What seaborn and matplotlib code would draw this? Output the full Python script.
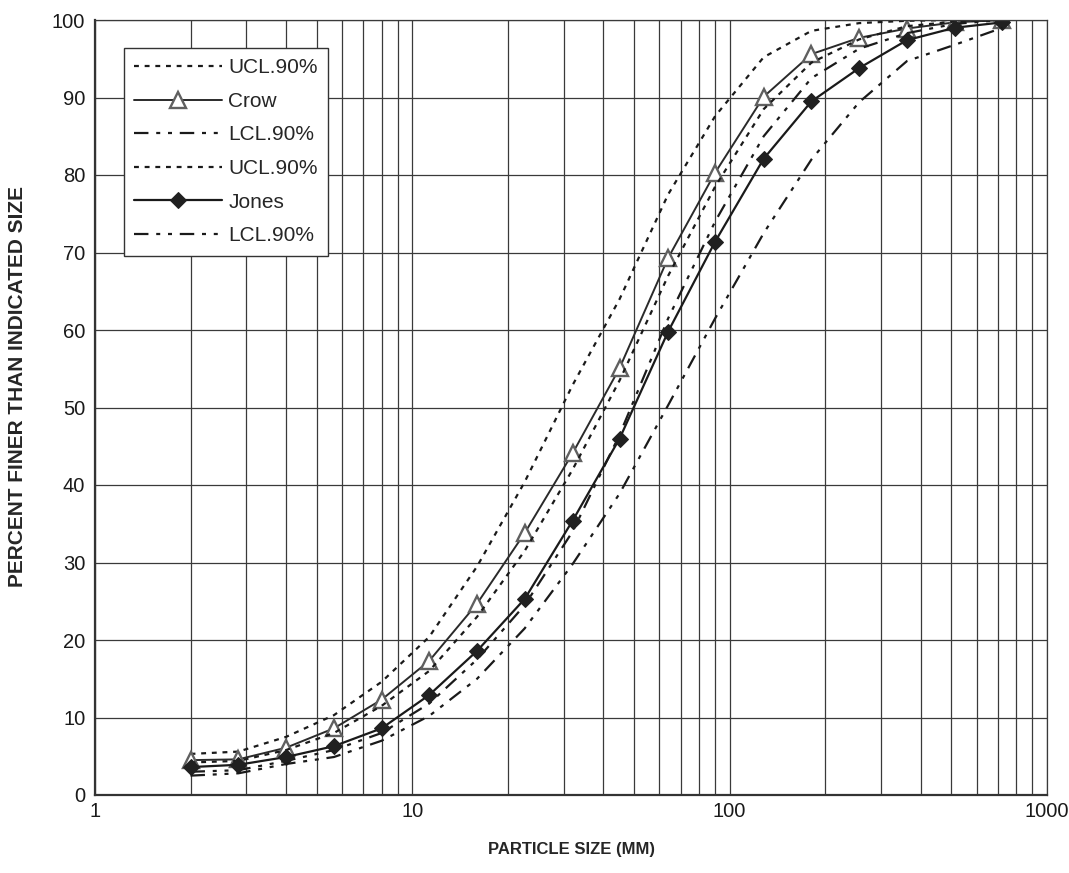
import numpy as np
import pandas as pd
import matplotlib
matplotlib.use("Agg")
import matplotlib.pyplot as plt
from matplotlib.ticker import FixedLocator, FixedFormatter, LogLocator, NullFormatter
import seaborn as sns

# Sieve sizes (mm)
sizes = [2, 2.83, 4, 5.66, 8, 11.3, 16, 22.6, 32, 45, 64, 90, 128, 181, 256, 362, 512, 724]

# Percent finer, Crow gradation with 90% confidence limits
crow = [4.5, 4.6, 6.1, 8.6, 12.3, 17.3, 24.7, 33.8, 44.1, 55.1, 69.3, 80.3, 90.1, 95.6, 97.7, 98.9, 99.7, 100.0]
crow_ucl = [5.3, 5.6, 7.5, 10.3, 14.6, 20.4, 29.5, 40.4, 52.9, 64.0, 77.5, 87.6, 95.2, 98.6, 99.6, 99.9, 100.0, 100.0]
crow_lcl = [3.0, 3.2, 4.4, 5.8, 8.0, 11.8, 17.5, 24.5, 34.0, 46.5, 61.5, 74.0, 85.0, 92.5, 96.3, 98.3, 99.5, 100.0]

# Percent finer, Jones gradation with 90% confidence limits
jones = [3.6, 3.9, 4.9, 6.3, 8.6, 12.9, 18.6, 25.3, 35.4, 46.0, 59.8, 71.4, 82.1, 89.5, 93.8, 97.4, 99.0, 99.7]
jones_ucl = [4.2, 4.4, 5.8, 8.0, 11.5, 16.0, 23.0, 31.5, 42.0, 53.5, 67.0, 78.5, 88.5, 94.5, 97.5, 99.2, 99.8, 100.0]
jones_lcl = [2.5, 2.8, 4.0, 4.9, 7.0, 10.2, 15.0, 21.5, 29.8, 38.9, 50.3, 61.5, 72.5, 82.0, 89.4, 94.7, 96.8, 99.0]

legend_labels = ["UCL.90%", "Crow", "LCL.90%", "UCL.90%", "Jones", "LCL.90%"]
x_ticks = [1, 10, 100, 1000]
y_ticks = list(range(0, 101, 10))

sns.set_style("white")
plt.rcParams["font.family"] = ["Liberation Sans", "DejaVu Sans"]

fig = plt.figure(figsize=(10.69, 8.73), dpi=100)
ax = fig.add_axes([95 / 1069, 1 - 795 / 873, (1047 - 95) / 1069, (795 - 20) / 873])

ink = "#1a1a1a"
ucl_dash = (0, (2.2, 2.6))
lcl_dash = (0, (6.5, 3.5, 1.8, 3.5, 1.8, 3.5))

series = [
    (crow_ucl, legend_labels[0], dict(linestyle=ucl_dash, lw=1.6, color=ink)),
    (crow, legend_labels[1], dict(linestyle="-", lw=1.4, color="#2a2a2a", marker="^",
                                  markersize=11, markerfacecolor="white",
                                  markeredgecolor="#606060", markeredgewidth=1.7)),
    (crow_lcl, legend_labels[2], dict(linestyle=lcl_dash, lw=1.6, color=ink)),
    (jones_ucl, legend_labels[3], dict(linestyle=ucl_dash, lw=1.6, color=ink)),
    (jones, legend_labels[4], dict(linestyle="-", lw=1.6, color=ink, marker="D",
                                   markersize=8, markerfacecolor="#202020",
                                   markeredgecolor="#202020")),
    (jones_lcl, legend_labels[5], dict(linestyle=lcl_dash, lw=1.6, color=ink)),
]

for vals, label, kw in series:
    df = pd.DataFrame({"size": sizes, "pct": vals})
    sns.lineplot(data=df, x="size", y="pct", ax=ax, label=label, sort=False,
                 estimator=None, **kw)

ax.set_xscale("log")
ax.set_xlim(1, 1000)
ax.set_ylim(0, 100)

# Grid: every decade subdivision on x, every 10 % on y
grid_col = "#3a3a3a"
ax.xaxis.set_major_locator(FixedLocator(x_ticks))
ax.xaxis.set_major_formatter(FixedFormatter([str(t) for t in x_ticks]))
ax.xaxis.set_minor_locator(LogLocator(base=10, subs=np.arange(2, 10)))
ax.xaxis.set_minor_formatter(NullFormatter())
ax.set_yticks(y_ticks)
ax.grid(which="major", axis="both", color=grid_col, lw=0.9)
ax.grid(which="minor", axis="x", color=grid_col, lw=0.9)
ax.set_axisbelow(True)

for side in ["top", "right"]:
    ax.spines[side].set_color(grid_col)
    ax.spines[side].set_linewidth(0.9)
for side in ["left", "bottom"]:
    ax.spines[side].set_color("#333333")
    ax.spines[side].set_linewidth(1.6)

ax.tick_params(axis="both", which="major", labelsize=14.5, colors="#1a1a1a",
               length=4, width=1, direction="out", pad=3)
ax.tick_params(axis="x", which="major", pad=1)
ax.tick_params(axis="x", which="minor", length=0)
ax.tick_params(top=False, right=False)

ax.set_xlabel("PARTICLE SIZE (MM)", fontsize=12, fontweight="bold", labelpad=15)
ax.set_ylabel("PERCENT FINER THAN INDICATED SIZE", fontsize=15, fontweight="bold")
ax.yaxis.set_label_coords(-0.0715, 0.527)

leg = ax.legend(loc="upper left", bbox_to_anchor=(0.0305, 0.964), fontsize=15,
                frameon=True, fancybox=False, framealpha=1, edgecolor="#333333",
                handlelength=4.2, labelspacing=0.7, borderpad=0.5,
                handletextpad=0.3, borderaxespad=0)
leg.get_frame().set_linewidth(1.0)

fig.savefig("out.png", dpi=100)
